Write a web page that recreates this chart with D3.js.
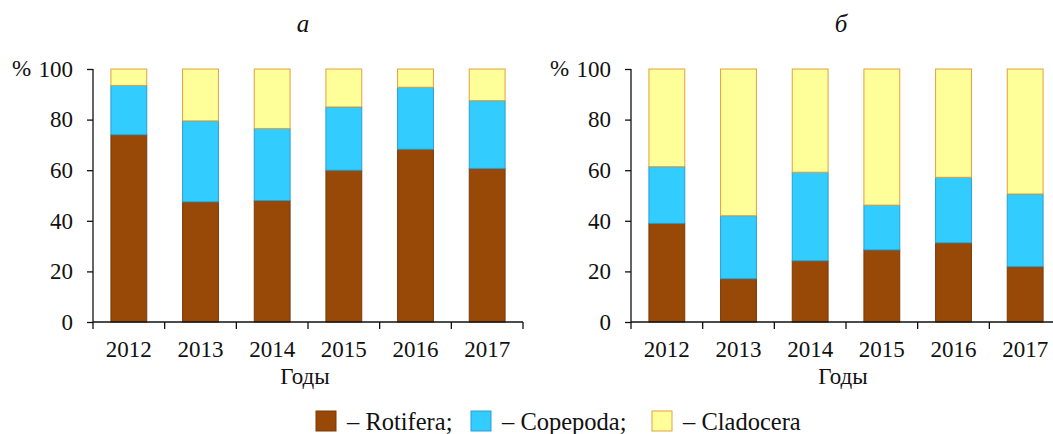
<!DOCTYPE html>
<html>
<head>
<meta charset="utf-8">
<script src="https://cdn.jsdelivr.net/npm/d3@7"></script>
<style>
  body { margin: 0; background: #fff; }
</style>
</head>
<body>
<div id="chart"></div>
<script>
// data, percent of total
var years = ["2012", "2013", "2014", "2015", "2016", "2017"];
var groups = ["Rotifera", "Copepoda", "Cladocera"];
var yTicks = [0, 20, 40, 60, 80, 100];

var rotiferaA  = [74, 47.5, 48, 60, 68.3, 60.7];
var copepodaA  = [19.5, 32, 28.5, 25, 24.5, 26.8];
var cladoceraA = [6.5, 20.5, 23.5, 15, 7.2, 12.5];

var rotiferaB  = [39, 17.1, 24.2, 28.5, 31.3, 21.9];
var copepodaB  = [22.4, 24.9, 35, 17.7, 25.9, 28.7];
var cladoceraB = [38.6, 58, 40.8, 53.8, 42.8, 49.4];

var fills   = { Rotifera: "#984807", Copepoda: "#33ccff", Cladocera: "#ffff99" };
var strokes = { Rotifera: "#7a3a06", Copepoda: "#2a9fcf", Cladocera: "#e3a040" };

var FONT = "Liberation Serif";
var W = 1053, H = 434;
var svg = d3.select("#chart").append("svg")
  .attr("width", W)
  .attr("height", H)
  .attr("font-family", FONT);

function rows(r, c, cl) {
  return years.map(function(y, i) {
    return { year: y, Rotifera: r[i], Copepoda: c[i], Cladocera: cl[i] };
  });
}

var y = d3.scaleLinear().domain([0, 100]).range([322, 69]);

function panel(data, x0, title) {
  var x = d3.scaleBand()
    .domain(years)
    .range([x0, x0 + 430])
    .paddingInner(0.5)
    .paddingOuter(0.25);

  var stack = d3.stack().keys(groups)(data);

  var g = svg.append("g");

  g.selectAll(".serie")
    .data(stack)
    .enter().append("g")
    .attr("fill", function(d) { return fills[d.key]; })
    .attr("stroke", function(d) { return strokes[d.key]; })
    .attr("stroke-width", 1)
    .selectAll("rect")
    .data(function(d) { return d; })
    .enter().append("rect")
    .attr("x", function(d) { return x(d.data.year); })
    .attr("y", function(d) { return y(d[1]); })
    .attr("width", x.bandwidth())
    .attr("height", function(d) { return y(d[0]) - y(d[1]); });

  // y axis
  var ya = g.append("g")
    .attr("transform", "translate(" + x0 + ",0)")
    .call(d3.axisLeft(y).tickValues(yTicks).tickSize(6).tickPadding(14))
    .attr("font-family", FONT)
    .attr("font-size", 23);
  ya.selectAll("text").attr("fill", "#111");
  ya.selectAll("line, path").attr("stroke", "#111").attr("stroke-width", 1.3);
  ya.select(".domain").attr("d", "M0," + y(100) + "V" + y(0));

  g.append("text")
    .attr("x", x0 - 81)
    .attr("y", y(100))
    .attr("dy", "0.32em")
    .attr("font-size", 23)
    .attr("fill", "#111")
    .text("%");

  // x axis, ticks at band edges
  var xa = g.append("g")
    .attr("transform", "translate(0," + y(0) + ")");
  xa.append("line")
    .attr("x1", x0).attr("x2", x0 + 430)
    .attr("stroke", "#111").attr("stroke-width", 1.3);
  var edges = d3.range(years.length + 1).map(function(i) { return x0 + i * x.step(); });
  xa.selectAll(".tk")
    .data(edges)
    .enter().append("line")
    .attr("x1", function(d) { return d; })
    .attr("x2", function(d) { return d; })
    .attr("y1", 0).attr("y2", 7)
    .attr("stroke", "#111").attr("stroke-width", 1.3);
  xa.selectAll(".yl")
    .data(years)
    .enter().append("text")
    .attr("x", function(d) { return x(d) + x.bandwidth() / 2; })
    .attr("y", 35)
    .attr("text-anchor", "middle")
    .attr("font-size", 23)
    .attr("fill", "#111")
    .text(function(d) { return d; });

  g.append("text")
    .attr("x", x0 + 212)
    .attr("y", 384)
    .attr("text-anchor", "middle")
    .attr("font-size", 23)
    .attr("fill", "#111")
    .text("Годы");

  g.append("text")
    .attr("x", x0 + 210)
    .attr("y", 32)
    .attr("text-anchor", "middle")
    .attr("font-size", 25)
    .attr("font-style", "italic")
    .attr("fill", "#111")
    .text(title);
}

panel(rows(rotiferaA, copepodaA, cladoceraA), 93, "а");
panel(rows(rotiferaB, copepodaB, cladoceraB), 631, "б");

// legend
var legendX = [316, 471, 652];
var legendLabels = ["– Rotifera;", "– Copepoda;", "– Cladocera"];
var lg = svg.append("g");
lg.selectAll("rect")
  .data(groups)
  .enter().append("rect")
  .attr("x", function(d, i) { return legendX[i]; })
  .attr("y", 411)
  .attr("width", 20)
  .attr("height", 20)
  .attr("fill", function(d) { return fills[d]; })
  .attr("stroke", function(d) { return strokes[d]; })
  .attr("stroke-width", 1);
lg.selectAll("text")
  .data(legendLabels)
  .enter().append("text")
  .attr("x", function(d, i) { return legendX[i] + 31; })
  .attr("y", 430)
  .attr("font-size", 24.5)
  .attr("fill", "#111")
  .text(function(d) { return d; });
</script>
</body>
</html>
